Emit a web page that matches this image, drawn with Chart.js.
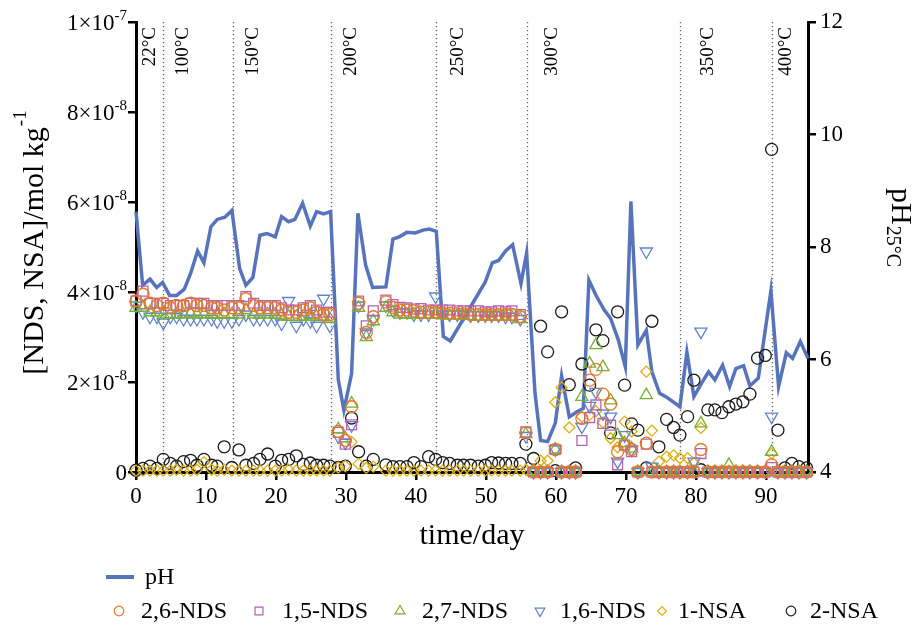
<!DOCTYPE html>
<html>
<head>
<meta charset="utf-8">
<script src="https://cdn.jsdelivr.net/npm/chart.js@4.4.1/dist/chart.umd.min.js"></script>
<style>
  html, body { margin: 0; padding: 0; background: #fff; }
  #wrap { width: 922px; height: 630px; }
</style>
</head>
<body>
<div id="wrap"><canvas id="c" width="922" height="630"></canvas></div>
<script>
// ---- sampling days for the sulfonate measurements ----
const sampleDays = [
  0, 1, 2, 3, 3.9, 4.9, 5.8, 6.8, 7.8, 8.7, 9.7, 10.8, 11.6, 12.6, 13.7, 14.7, 15.7, 16.8, 17.7, 18.8, 19.9, 20.8, 21.8, 22.9, 23.9, 24.9, 25.8, 26.8, 27.7,
  28.9, 29.9, 30.8, 31.8, 32.9, 33.9,
  35.7, 36.7, 37.7, 38.7, 39.7, 40.7, 41.8, 42.8, 43.8, 44.8, 45.9, 46.8, 47.8, 48.9, 49.9, 50.8, 51.8, 52.8, 53.7, 54.9,
  55.7, 56.8, 57.8, 58.8, 59.9, 60.8, 61.9, 62.8, 63.7, 64.8, 65.7, 66.7, 67.8, 68.8, 69.8, 70.8, 71.7, 72.9, 73.7, 74.7, 75.8, 76.8, 77.7, 78.8, 79.7, 80.7,
  81.7, 82.7, 83.7, 84.7, 85.7, 86.7, 87.7, 88.8, 89.9, 90.8, 91.7, 92.7, 93.7, 94.7, 95.8
];

// concentrations in nmol kg-1 (1e-9 mol kg-1), one value per sampling day
const nds26 = [
  38, 39.5, 37.5, 37, 37.5, 36.5, 37, 37, 37.5, 37, 37, 36.5, 36.5, 36, 36.5, 36.5, 38.5, 37, 36.5, 36.5, 36.5, 36, 35.5, 35.5, 36, 36.5, 35.5, 35, 35,
  9, 7, 14.5, 37.5, 31, 34.5,
  37.8, 36.6, 36, 36, 35.8, 35.5, 35.5, 35.5, 35.3, 35.3, 35.2, 35.2, 35, 35, 35, 35, 35, 35, 35, 34.5,
  8.7, 0, 0, 0, 5, 0, 0, 0, 11.9, 20.4, 22.8, 17.3, 15.1, 4.5, 6, 5, 0, 6.4, 0, 0, 0, 0, 0, 0, 0, 5,
  0, 0, 0, 0, 0, 0, 0, 0, 0, 1.6, 0, 0, 0, 0, 0
];
const nds15 = [
  38, 40.2, 37.5, 37.5, 37.5, 37, 37, 37, 37.5, 37.5, 37.5, 37, 37, 37, 37, 37, 39, 37.5, 37, 37, 37, 36.5, 36, 36, 36.5, 37, 36, 35.5, 35.5,
  8.8, 6.2, 10.5, 38, 32.5, 35.8,
  38.2, 37.2, 36.6, 36.5, 36.2, 36.3, 36, 36, 36, 36, 35.8, 35.8, 35.8, 35.8, 35.6, 35.6, 35.8, 35.6, 35.8, 35,
  8.9, 0, 0, 0, 5, 0, 0, 0, 7, 12.1, 14.9, 10.8, 10.4, 1.6, 6, 4.5, 0, 6.2, 0, 0, 0, 0, 0, 0, 0, 4.1,
  0, 0, 0, 0, 0, 0, 0, 0, 0, 1, 0, 0, 0, 0, 0
];
const nds27 = [
  36.5, 36.5, 35.5, 35.5, 35, 35, 35, 35, 35.2, 35, 35, 35, 35, 35, 35, 35, 36, 35, 35, 35, 35, 34.8, 34.5, 34.5, 34.5, 34.8, 34.5, 34.5, 34,
  9.5, 7.5, 15.2, 36.5, 30, 33.5,
  36.5, 35.5, 35, 35, 35, 35, 35, 35, 34.8, 34.8, 34.8, 34.7, 34.7, 34.5, 34.5, 34.5, 34.5, 34.5, 34.5, 34,
  8.4, 0, 0, 0, 5, 0, 0, 0, 16.7, 24.1, 28.2, 23.3, 15.9, 8.2, 6.4, 5.2, 0, 17.1, 0, 0, 0, 0, 0, 0, 0, 10.8,
  0, 0, 0, 1.6, 0, 0, 0, 0, 0, 4.5, 0, 0, 0, 0, 0
];
const nds16 = [
  37, 35.5, 34.5, 34.5, 33.2, 34.5, 34.5, 34, 34, 34, 34, 34, 33.5, 33.5, 33.5, 34, 35, 34, 34, 34, 34, 33, 38, 32.5, 34, 33.5, 32.5, 38.5, 32.5,
  7.9, 6.5, 10.4, 37, 31, 34,
  37, 36, 35.5, 35.5, 35, 35, 35, 39, 35, 35, 35, 35, 34.8, 34.8, 34.8, 34.8, 34.8, 34.5, 34.5, 34,
  8, 0, 0, 0, 5, 0, 0, 0, 10.1, 14.7, 17.8, 13, 12.3, 2.3, 8.2, 5, 0, 49, 1.2, 0, 0, 0, 0, 0, 2.3, 31.2,
  0, 0, 0, 0, 0, 0, 0, 0, 0, 12.3, 0, 0, 0, 0, 0
];
const nsa1 = [
  0.3, 0.3, 0.3, 0.3, 0.3, 0.3, 0.5, 0.3, 0.3, 0.5, 2.2, 0.5, 0.3, 0.5, 0.3, 0.3, 0.3, 0.3, 0.3, 0.3, 0.3, 0.3, 0.5, 0.3, 0.3, 0.3, 0.3, 0.3, 0.3,
  1.0, 1.3, 6.7, 1.8, 0.9, 1.2,
  0.3, 0.3, 0.3, 0.3, 0.3, 0.3, 0.3, 0.3, 0.3, 0.3, 0.3, 0.3, 0.3, 0.3, 0.3, 0.3, 0.3, 0.3, 0.3, 0.3,
  0.5, 0.5, 2.5, 2.5, 15.5, 18.8, 9.9, 0.3, 12.3, 12.7, 13.5, 11, 7.5, 5.5, 11.2, 9, 0.3, 22.3, 9.2, 2.3, 3.4, 3.7, 3.1, 3.1, 2.0, 9.8,
  0.3, 0.3, 0.3, 0.3, 0.3, 0.3, 0.3, 0.3, 0.3, 4.1, 0.3, 0.3, 0.3, 0.3, 0.3
];
const nsa2 = [
  0.4, 0.8, 1.3, 0.8, 2.8, 1.9, 1.3, 2.3, 2.6, 1.5, 2.8, 1.5, 1.3, 5.6, 1.0, 4.9, 1.5, 1.9, 2.8, 4.0, 1.3, 2.6, 2.8, 3.6, 1.7, 2.0, 1.5, 1.5, 1.3,
  1.0, 1.3, 12, 4.5, 1.3, 2.8,
  1.6, 1.2, 1.2, 1.2, 2.1, 1.2, 3.4, 2.8, 2.1, 1.9, 1.5, 1.5, 1.5, 1.3, 1.5, 2.1, 2.0, 1.9, 1.9, 1.9,
  6.2, 3.0, 32.4, 26.7, 0.3, 35.6, 19.4, 0.9, 24, 19.3, 31.6, 29.2, 8.7, 35.6, 19.3, 10.7, 9.3, 0.9, 33.5, 5.6, 11.7, 9.9, 8.2, 12.3, 20.4, 0.5,
  13.8, 13.8, 13.2, 14.5, 15.1, 15.6, 17.3, 25.3, 25.9, 71.7, 9.3, 0.9, 1.9, 1.2, 0.9
];

// ---- pH (25 °C) record ----
const phDays = [
  0, 0.95, 2, 2.95, 3.8, 4.8, 5.8, 6.9, 7.8, 8.8, 9.7, 10.7, 11.6, 12.7, 13.7, 14.8, 15.7, 16.7, 17.7, 18.7, 19.9, 20.8, 21.8, 22.7, 23.8, 24.9, 25.8, 26.8, 27.8,
  28.9, 29.7, 30.8, 31.7, 32.8, 33.8, 35.7, 36.7, 37.6, 38.7, 39.9, 41, 41.9, 42.9, 43.9, 44.9, 49.9, 50.9, 51.8, 52.8, 53.8, 55, 55.8,
  57, 57.8, 58.8, 59.9, 60.8, 61.9, 63, 63.9, 64.7, 65.8, 66.9, 67.8, 68.9, 69.9, 70.7, 71.7, 72.9, 73.7, 74.8, 75.8, 77.7,
  78.7, 79.7, 80.8, 81.8, 82.7, 83.8, 84.8, 85.7, 86.8, 87.7, 88.9, 90.7, 91.8, 92.9, 93.8, 94.9, 96
];
const phValues = [
  8.63, 7.32, 7.43, 7.28, 7.37, 7.14, 7.14, 7.25, 7.53, 7.93, 7.72, 8.36, 8.49, 8.53, 8.65, 7.62, 7.32, 7.46, 8.21, 8.24, 8.18, 8.54, 8.45, 8.49, 8.78, 8.37, 8.63, 8.59, 8.63,
  5.64, 5.10, 5.75, 8.60, 7.68, 7.28, 7.29, 8.14, 8.18, 8.26, 8.25, 8.30, 8.32, 8.28, 6.41, 6.33, 7.38, 7.72, 7.76, 7.93, 8.04, 7.35, 7.89,
  5.40, 4.56, 4.54, 4.87, 5.71, 4.98, 5.07, 5.13, 7.41, 7.12, 6.88, 6.73, 6.35, 5.87, 8.81, 6.26, 6.52, 5.78, 5.40, 5.33, 5.16,
  6.13, 5.34, 5.58, 5.78, 5.64, 5.90, 5.52, 5.84, 5.89, 5.53, 5.67, 7.22, 5.52, 6.12, 6.02, 6.32, 6.02
];

// ---- axes ----
const dayTicks = [0, 10, 20, 30, 40, 50, 60, 70, 80, 90];
const concTicks = [0, 2e-8, 4e-8, 6e-8, 8e-8, 1e-7];
const phTicks = [4, 6, 8, 10, 12];

// ---- temperature stages ----
const stageDays = [3.9, 13.8, 27.9, 42.8, 55.8, 77.7, 90.8];
const stageLabels = ['22°C', '100°C', '150°C', '200°C', '250°C', '300°C', '350°C', '400°C'];
const stageLabelDays = [2.0, 6.7, 16.7, 30.7, 46.0, 59.4, 81.7, 92.9];

const FONT = "'Liberation Serif', 'Times New Roman', Times, serif";
const PH_COLOR = '#5773bb';

const markerSeries = [
  { label: '2,6-NDS', values: nds26, color: '#e8772a', style: 'circle',   r: 6,   rot: 0 },
  { label: '1,5-NDS', values: nds15, color: '#b064b4', style: 'rect',     r: 7,   rot: 0 },
  { label: '2,7-NDS', values: nds27, color: '#79b030', style: 'triangle', r: 7,   rot: 0 },
  { label: '1,6-NDS', values: nds16, color: '#5f82c8', style: 'triangle', r: 7,   rot: 180 },
  { label: '1-NSA',   values: nsa1,  color: '#deae10', style: 'rectRot',  r: 5.5, rot: 0 },
  { label: '2-NSA',   values: nsa2,  color: '#1a1a1a', style: 'circle',   r: 6,   rot: 0 }
];

const toPoints = (xs, ys, k) => xs.map((x, i) => ({ x: x, y: ys[i] * k }));

const datasets = [
  {
    type: 'line', label: 'pH', yAxisID: 'yPH', order: 1,
    data: toPoints(phDays, phValues, 1),
    borderColor: PH_COLOR, borderWidth: 3.5, pointRadius: 0, tension: 0, fill: false, clip: false
  }
].concat(markerSeries.map(s => ({
  type: 'scatter', label: s.label, yAxisID: 'yConc', order: 0,
  data: toPoints(sampleDays, s.values, 1e-9),
  pointStyle: s.style, pointRadius: s.r, pointRotation: s.rot,
  pointBorderColor: s.color, pointBackgroundColor: 'rgba(0,0,0,0)', pointBorderWidth: 1.3,
  borderColor: s.color, backgroundColor: 'rgba(0,0,0,0)', showLine: false, clip: false
})));

const axisGrid = { drawOnChartArea: false, drawTicks: true, tickLength: 8, lineWidth: 2.5, color: '#000' };
const axisBorder = { display: true, width: 3, color: '#000' };

function drawMarker(ctx, style, r, rot, x, y) {
  if (Chart.helpers && Chart.helpers.drawPoint) {
    Chart.helpers.drawPoint(ctx, { pointStyle: style, radius: r, rotation: rot, borderWidth: 1.2 }, x, y);
  }
}

const decorations = {
  id: 'decorations',
  beforeDatasetsDraw(chart) {
    const ctx = chart.ctx, xs = chart.scales.x, a = chart.chartArea;
    ctx.save();
    ctx.strokeStyle = '#666';
    ctx.lineWidth = 1.3;
    ctx.setLineDash([1.3, 2.7]);
    stageDays.forEach(d => {
      const x = Math.round(xs.getPixelForValue(d)) + 0.5;
      ctx.beginPath();
      ctx.moveTo(x, a.top);
      ctx.lineTo(x, a.bottom);
      ctx.stroke();
    });
    ctx.restore();

    // stage temperature labels, vertical
    ctx.save();
    ctx.fillStyle = '#000';
    ctx.font = '19px ' + FONT;
    ctx.textAlign = 'right';
    ctx.textBaseline = 'middle';
    stageLabels.forEach((t, i) => {
      const x = xs.getPixelForValue(stageLabelDays[i]);
      ctx.save();
      ctx.translate(x, a.top + 5);
      ctx.rotate(-Math.PI / 2);
      ctx.fillText(t, 0, 0);
      ctx.restore();
    });
    ctx.restore();
  },
  afterDraw(chart) {
    const ctx = chart.ctx, ys = chart.scales.yConc, a = chart.chartArea;
    ctx.save();
    ctx.fillStyle = '#000';

    // concentration tick labels with powers of ten
    const right = ys.right - 9;
    concTicks.forEach(v => {
      const y = ys.getPixelForValue(v);
      if (v === 0) {
        ctx.font = '23px ' + FONT;
        ctx.textAlign = 'right';
        ctx.textBaseline = 'alphabetic';
        ctx.fillText('0', right, y + 8);
        return;
      }
      const exp = Math.floor(Math.log10(v) + 1e-9);
      const mant = Math.round(v / Math.pow(10, exp));
      const sup = String(exp);
      ctx.font = '15px ' + FONT;
      const wSup = ctx.measureText(sup).width;
      ctx.textBaseline = 'alphabetic';
      ctx.textAlign = 'left';
      ctx.fillText(sup, right - wSup, y - 2.5);
      ctx.font = '23px ' + FONT;
      ctx.textAlign = 'right';
      ctx.fillText(mant + '×10', right - wSup, y + 8);
    });

    // left axis title
    ctx.save();
    ctx.translate(43, 243);
    ctx.rotate(-Math.PI / 2);
    ctx.textAlign = 'left';
    ctx.textBaseline = 'alphabetic';
    ctx.font = '30px ' + FONT;
    const t1 = '[NDS, NSA]/mol kg';
    const w1 = ctx.measureText(t1).width;
    ctx.font = '19px ' + FONT;
    const w2 = ctx.measureText('-1').width;
    const start = -(w1 + w2) / 2;
    ctx.font = '30px ' + FONT;
    ctx.fillText(t1, start, 0);
    ctx.font = '19px ' + FONT;
    ctx.fillText('-1', start + w1 + 1, -17);
    ctx.restore();

    // right axis title
    ctx.save();
    ctx.translate(892, 188);
    ctx.rotate(Math.PI / 2);
    ctx.textAlign = 'left';
    ctx.textBaseline = 'alphabetic';
    ctx.font = '30px ' + FONT;
    ctx.fillText('pH', 0, 0);
    const wp = ctx.measureText('pH').width;
    ctx.font = '20px ' + FONT;
    ctx.fillText('25°C', wp + 1, 5);
    ctx.restore();

    // bottom axis title
    ctx.font = '30px ' + FONT;
    ctx.textAlign = 'center';
    ctx.textBaseline = 'alphabetic';
    ctx.fillText('time/day', (a.left + a.right) / 2, 544);

    // legend
    ctx.font = '24px ' + FONT;
    ctx.textAlign = 'left';
    ctx.textBaseline = 'middle';
    ctx.strokeStyle = PH_COLOR;
    ctx.lineWidth = 4;
    ctx.beginPath();
    ctx.moveTo(106, 577);
    ctx.lineTo(134, 577);
    ctx.stroke();
    ctx.fillText('pH', 145, 578);

    const markerX = [119, 259, 400, 540, 662, 791];
    const textX = [141, 282, 422, 560, 678, 810];
    markerSeries.forEach((s, i) => {
      ctx.save();
      ctx.strokeStyle = s.color;
      ctx.fillStyle = 'rgba(0,0,0,0)';
      ctx.lineWidth = 1.2;
      drawMarker(ctx, s.style, s.r * 0.8, s.rot, markerX[i], 611);
      ctx.restore();
      ctx.fillStyle = '#000';
      ctx.font = '24px ' + FONT;
      ctx.textAlign = 'left';
      ctx.textBaseline = 'middle';
      ctx.fillText(s.label, textX[i], 612);
    });
    ctx.restore();
  }
};

Chart.defaults.font.family = FONT;
Chart.defaults.color = '#000';

new Chart(document.getElementById('c'), {
  type: 'scatter',
  data: { datasets: datasets },
  options: {
    responsive: false,
    devicePixelRatio: 1,
    animation: false,
    events: [],
    layout: { padding: { top: 22, left: 0, right: 0, bottom: 0 } },
    plugins: { legend: { display: false }, tooltip: { enabled: false }, title: { display: false } },
    scales: {
      x: {
        type: 'linear', position: 'bottom', min: 0, max: 96,
        afterBuildTicks: s => { s.ticks = dayTicks.map(v => ({ value: v })); },
        afterFit: s => { s.height = 158; },
        grid: axisGrid, border: axisBorder,
        ticks: { font: { family: FONT, size: 23 }, color: '#000', padding: 3, maxRotation: 0, autoSkip: false }
      },
      yConc: {
        type: 'linear', position: 'left', min: 0, max: 1e-7,
        afterBuildTicks: s => { s.ticks = concTicks.map(v => ({ value: v })); },
        afterFit: s => { s.width = 136; },
        grid: axisGrid, border: axisBorder,
        ticks: { display: false }
      },
      yPH: {
        type: 'linear', position: 'right', min: 4, max: 12,
        afterBuildTicks: s => { s.ticks = phTicks.map(v => ({ value: v })); },
        afterFit: s => { s.width = 114; },
        grid: axisGrid, border: axisBorder,
        ticks: { font: { family: FONT, size: 23 }, color: '#000', padding: 4 }
      }
    }
  },
  plugins: [decorations]
});
</script>
</body>
</html>
